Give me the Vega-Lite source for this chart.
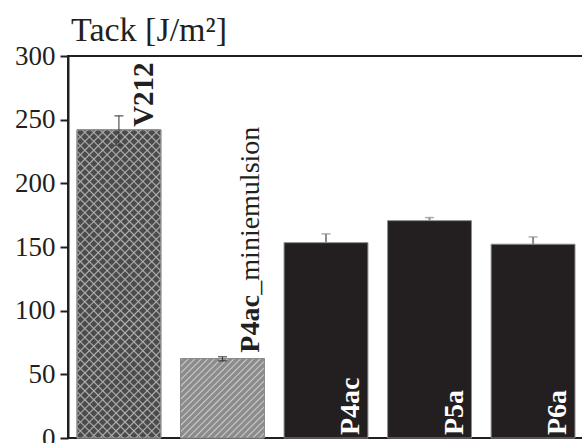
{
  "$schema": "https://vega.github.io/schema/vega-lite/v6.json",
  "width": 516,
  "height": 382,
  "autosize": {"type": "none"},
  "padding": {"left": 68, "top": 56, "right": 0, "bottom": 5},
  "background": "white",
  "config": {
    "view": {"stroke": "#231f20", "strokeWidth": 2},
    "font": "Liberation Serif"
  },
  "title": {
    "text": "Tack [J/m²]",
    "anchor": "start",
    "frame": "group",
    "offset": -33,
    "dx": 3,
    "baseline": "alphabetic",
    "font": "Liberation Serif",
    "fontSize": 34,
    "fontWeight": "normal",
    "color": "#231f20"
  },
  "datasets": {
    "tack": [
      {"name": "V212", "value": 242, "lo": 230, "hi": 253, "kind": "V212"},
      {"name": "P4ac_miniemulsion", "value": 62.3, "lo": 60.6, "hi": 63.8, "kind": "mini"},
      {"name": "P4ac", "value": 153.4, "lo": 153.4, "hi": 160.3, "kind": "black"},
      {"name": "P5a", "value": 170.7, "lo": 170.7, "hi": 173.1, "kind": "black"},
      {"name": "P6a", "value": 152.2, "lo": 152.2, "hi": 157.9, "kind": "black"}
    ]
  },
  "data": {"name": "tack"},
  "encoding": {
    "x": {
      "field": "name",
      "type": "nominal",
      "sort": null,
      "scale": {"paddingInner": 0.19, "paddingOuter": 0.087},
      "axis": null
    }
  },
  "layer": [
    {
      "mark": {"type": "bar", "stroke": "#8a8a8a", "strokeWidth": 1},
      "encoding": {
        "y": {
          "field": "value",
          "type": "quantitative",
          "scale": {"domain": [0, 300], "nice": false, "zero": true},
          "axis": {
            "values": [0, 25, 50, 75, 100, 125, 150, 175, 200, 225, 250, 275, 300],
            "labelExpr": "datum.value % 50 === 0 ? datum.label : ''",
            "tickSize": {"condition": {"test": "datum.value % 50 === 0", "value": 8}, "value": 5},
            "tickWidth": 2,
            "tickColor": "#231f20",
            "domainColor": "#231f20",
            "domainWidth": 2,
            "labelFontSize": 27,
            "labelFont": "Liberation Serif",
            "labelColor": "#231f20",
            "labelPadding": 5,
            "grid": false,
            "title": null
          }
        },
        "color": {
          "condition": [
            {"test": "datum.kind === 'V212'", "value": "#4b4b4b"},
            {"test": "datum.kind === 'mini'", "value": "#8c8c8c"}
          ],
          "value": "#231f20"
        }
      }
    },
    {
      "transform": [{"filter": "datum.kind === 'mini'"}],
      "mark": {
        "type": "bar",
        "stroke": "#8a8a8a",
        "strokeWidth": 1,
        "fill": {
          "gradient": "linear", "x1": 0, "y1": 0, "x2": 1.0272, "y2": 0.9713,
          "stops": [
            {"offset": 0, "color": "#8c8c8c"}, {"offset": 0.009, "color": "#cccccc"}, {"offset": 0.018, "color": "#8c8c8c"},
            {"offset": 0.04, "color": "#8c8c8c"}, {"offset": 0.049, "color": "#cccccc"}, {"offset": 0.058, "color": "#8c8c8c"},
            {"offset": 0.08, "color": "#8c8c8c"}, {"offset": 0.089, "color": "#cccccc"}, {"offset": 0.098, "color": "#8c8c8c"},
            {"offset": 0.12, "color": "#8c8c8c"}, {"offset": 0.129, "color": "#cccccc"}, {"offset": 0.138, "color": "#8c8c8c"},
            {"offset": 0.16, "color": "#8c8c8c"}, {"offset": 0.169, "color": "#cccccc"}, {"offset": 0.178, "color": "#8c8c8c"},
            {"offset": 0.2, "color": "#8c8c8c"}, {"offset": 0.209, "color": "#cccccc"}, {"offset": 0.218, "color": "#8c8c8c"},
            {"offset": 0.24, "color": "#8c8c8c"}, {"offset": 0.249, "color": "#cccccc"}, {"offset": 0.258, "color": "#8c8c8c"},
            {"offset": 0.28, "color": "#8c8c8c"}, {"offset": 0.289, "color": "#cccccc"}, {"offset": 0.298, "color": "#8c8c8c"},
            {"offset": 0.32, "color": "#8c8c8c"}, {"offset": 0.329, "color": "#cccccc"}, {"offset": 0.338, "color": "#8c8c8c"},
            {"offset": 0.36, "color": "#8c8c8c"}, {"offset": 0.369, "color": "#cccccc"}, {"offset": 0.378, "color": "#8c8c8c"},
            {"offset": 0.4, "color": "#8c8c8c"}, {"offset": 0.409, "color": "#cccccc"}, {"offset": 0.418, "color": "#8c8c8c"},
            {"offset": 0.44, "color": "#8c8c8c"}, {"offset": 0.449, "color": "#cccccc"}, {"offset": 0.458, "color": "#8c8c8c"},
            {"offset": 0.48, "color": "#8c8c8c"}, {"offset": 0.489, "color": "#cccccc"}, {"offset": 0.498, "color": "#8c8c8c"},
            {"offset": 0.52, "color": "#8c8c8c"}, {"offset": 0.529, "color": "#cccccc"}, {"offset": 0.538, "color": "#8c8c8c"},
            {"offset": 0.56, "color": "#8c8c8c"}, {"offset": 0.569, "color": "#cccccc"}, {"offset": 0.578, "color": "#8c8c8c"},
            {"offset": 0.6, "color": "#8c8c8c"}, {"offset": 0.609, "color": "#cccccc"}, {"offset": 0.618, "color": "#8c8c8c"},
            {"offset": 0.64, "color": "#8c8c8c"}, {"offset": 0.649, "color": "#cccccc"}, {"offset": 0.658, "color": "#8c8c8c"},
            {"offset": 0.68, "color": "#8c8c8c"}, {"offset": 0.689, "color": "#cccccc"}, {"offset": 0.698, "color": "#8c8c8c"},
            {"offset": 0.72, "color": "#8c8c8c"}, {"offset": 0.729, "color": "#cccccc"}, {"offset": 0.738, "color": "#8c8c8c"},
            {"offset": 0.76, "color": "#8c8c8c"}, {"offset": 0.769, "color": "#cccccc"}, {"offset": 0.778, "color": "#8c8c8c"},
            {"offset": 0.8, "color": "#8c8c8c"}, {"offset": 0.809, "color": "#cccccc"}, {"offset": 0.818, "color": "#8c8c8c"},
            {"offset": 0.84, "color": "#8c8c8c"}, {"offset": 0.849, "color": "#cccccc"}, {"offset": 0.858, "color": "#8c8c8c"},
            {"offset": 0.88, "color": "#8c8c8c"}, {"offset": 0.889, "color": "#cccccc"}, {"offset": 0.898, "color": "#8c8c8c"},
            {"offset": 0.92, "color": "#8c8c8c"}, {"offset": 0.929, "color": "#cccccc"}, {"offset": 0.938, "color": "#8c8c8c"},
            {"offset": 0.96, "color": "#8c8c8c"}, {"offset": 0.969, "color": "#cccccc"}, {"offset": 0.978, "color": "#8c8c8c"},
            {"offset": 1, "color": "#8c8c8c"}
          ]
        }
      },
      "encoding": {
        "y": {"field": "value", "type": "quantitative"}
      }
    },
    {
      "transform": [{"filter": "datum.kind === 'V212'"}],
      "mark": {
        "type": "bar",
        "strokeWidth": 0,
        "fill": {
          "gradient": "linear", "x1": 0, "y1": 0, "x2": 0.3224, "y2": 1.1846,
          "stops": [
            {"offset": 0, "color": "rgba(176,176,176,0)"}, {"offset": 0.004, "color": "#b0b0b0"}, {"offset": 0.008, "color": "rgba(176,176,176,0)"},
            {"offset": 0.0227, "color": "rgba(176,176,176,0)"}, {"offset": 0.0267, "color": "#b0b0b0"}, {"offset": 0.0307, "color": "rgba(176,176,176,0)"},
            {"offset": 0.0455, "color": "rgba(176,176,176,0)"}, {"offset": 0.0495, "color": "#b0b0b0"}, {"offset": 0.0535, "color": "rgba(176,176,176,0)"},
            {"offset": 0.0682, "color": "rgba(176,176,176,0)"}, {"offset": 0.0722, "color": "#b0b0b0"}, {"offset": 0.0762, "color": "rgba(176,176,176,0)"},
            {"offset": 0.0909, "color": "rgba(176,176,176,0)"}, {"offset": 0.0949, "color": "#b0b0b0"}, {"offset": 0.0989, "color": "rgba(176,176,176,0)"},
            {"offset": 0.1136, "color": "rgba(176,176,176,0)"}, {"offset": 0.1176, "color": "#b0b0b0"}, {"offset": 0.1216, "color": "rgba(176,176,176,0)"},
            {"offset": 0.1364, "color": "rgba(176,176,176,0)"}, {"offset": 0.1404, "color": "#b0b0b0"}, {"offset": 0.1444, "color": "rgba(176,176,176,0)"},
            {"offset": 0.1591, "color": "rgba(176,176,176,0)"}, {"offset": 0.1631, "color": "#b0b0b0"}, {"offset": 0.1671, "color": "rgba(176,176,176,0)"},
            {"offset": 0.1818, "color": "rgba(176,176,176,0)"}, {"offset": 0.1858, "color": "#b0b0b0"}, {"offset": 0.1898, "color": "rgba(176,176,176,0)"},
            {"offset": 0.2045, "color": "rgba(176,176,176,0)"}, {"offset": 0.2085, "color": "#b0b0b0"}, {"offset": 0.2125, "color": "rgba(176,176,176,0)"},
            {"offset": 0.2273, "color": "rgba(176,176,176,0)"}, {"offset": 0.2313, "color": "#b0b0b0"}, {"offset": 0.2353, "color": "rgba(176,176,176,0)"},
            {"offset": 0.25, "color": "rgba(176,176,176,0)"}, {"offset": 0.254, "color": "#b0b0b0"}, {"offset": 0.258, "color": "rgba(176,176,176,0)"},
            {"offset": 0.2727, "color": "rgba(176,176,176,0)"}, {"offset": 0.2767, "color": "#b0b0b0"}, {"offset": 0.2807, "color": "rgba(176,176,176,0)"},
            {"offset": 0.2955, "color": "rgba(176,176,176,0)"}, {"offset": 0.2995, "color": "#b0b0b0"}, {"offset": 0.3035, "color": "rgba(176,176,176,0)"},
            {"offset": 0.3182, "color": "rgba(176,176,176,0)"}, {"offset": 0.3222, "color": "#b0b0b0"}, {"offset": 0.3262, "color": "rgba(176,176,176,0)"},
            {"offset": 0.3409, "color": "rgba(176,176,176,0)"}, {"offset": 0.3449, "color": "#b0b0b0"}, {"offset": 0.3489, "color": "rgba(176,176,176,0)"},
            {"offset": 0.3636, "color": "rgba(176,176,176,0)"}, {"offset": 0.3676, "color": "#b0b0b0"}, {"offset": 0.3716, "color": "rgba(176,176,176,0)"},
            {"offset": 0.3864, "color": "rgba(176,176,176,0)"}, {"offset": 0.3904, "color": "#b0b0b0"}, {"offset": 0.3944, "color": "rgba(176,176,176,0)"},
            {"offset": 0.4091, "color": "rgba(176,176,176,0)"}, {"offset": 0.4131, "color": "#b0b0b0"}, {"offset": 0.4171, "color": "rgba(176,176,176,0)"},
            {"offset": 0.4318, "color": "rgba(176,176,176,0)"}, {"offset": 0.4358, "color": "#b0b0b0"}, {"offset": 0.4398, "color": "rgba(176,176,176,0)"},
            {"offset": 0.4545, "color": "rgba(176,176,176,0)"}, {"offset": 0.4585, "color": "#b0b0b0"}, {"offset": 0.4625, "color": "rgba(176,176,176,0)"},
            {"offset": 0.4773, "color": "rgba(176,176,176,0)"}, {"offset": 0.4813, "color": "#b0b0b0"}, {"offset": 0.4853, "color": "rgba(176,176,176,0)"},
            {"offset": 0.5, "color": "rgba(176,176,176,0)"}, {"offset": 0.504, "color": "#b0b0b0"}, {"offset": 0.508, "color": "rgba(176,176,176,0)"},
            {"offset": 0.5227, "color": "rgba(176,176,176,0)"}, {"offset": 0.5267, "color": "#b0b0b0"}, {"offset": 0.5307, "color": "rgba(176,176,176,0)"},
            {"offset": 0.5455, "color": "rgba(176,176,176,0)"}, {"offset": 0.5495, "color": "#b0b0b0"}, {"offset": 0.5535, "color": "rgba(176,176,176,0)"},
            {"offset": 0.5682, "color": "rgba(176,176,176,0)"}, {"offset": 0.5722, "color": "#b0b0b0"}, {"offset": 0.5762, "color": "rgba(176,176,176,0)"},
            {"offset": 0.5909, "color": "rgba(176,176,176,0)"}, {"offset": 0.5949, "color": "#b0b0b0"}, {"offset": 0.5989, "color": "rgba(176,176,176,0)"},
            {"offset": 0.6136, "color": "rgba(176,176,176,0)"}, {"offset": 0.6176, "color": "#b0b0b0"}, {"offset": 0.6216, "color": "rgba(176,176,176,0)"},
            {"offset": 0.6364, "color": "rgba(176,176,176,0)"}, {"offset": 0.6404, "color": "#b0b0b0"}, {"offset": 0.6444, "color": "rgba(176,176,176,0)"},
            {"offset": 0.6591, "color": "rgba(176,176,176,0)"}, {"offset": 0.6631, "color": "#b0b0b0"}, {"offset": 0.6671, "color": "rgba(176,176,176,0)"},
            {"offset": 0.6818, "color": "rgba(176,176,176,0)"}, {"offset": 0.6858, "color": "#b0b0b0"}, {"offset": 0.6898, "color": "rgba(176,176,176,0)"},
            {"offset": 0.7045, "color": "rgba(176,176,176,0)"}, {"offset": 0.7085, "color": "#b0b0b0"}, {"offset": 0.7125, "color": "rgba(176,176,176,0)"},
            {"offset": 0.7273, "color": "rgba(176,176,176,0)"}, {"offset": 0.7313, "color": "#b0b0b0"}, {"offset": 0.7353, "color": "rgba(176,176,176,0)"},
            {"offset": 0.75, "color": "rgba(176,176,176,0)"}, {"offset": 0.754, "color": "#b0b0b0"}, {"offset": 0.758, "color": "rgba(176,176,176,0)"},
            {"offset": 0.7727, "color": "rgba(176,176,176,0)"}, {"offset": 0.7767, "color": "#b0b0b0"}, {"offset": 0.7807, "color": "rgba(176,176,176,0)"},
            {"offset": 0.7955, "color": "rgba(176,176,176,0)"}, {"offset": 0.7995, "color": "#b0b0b0"}, {"offset": 0.8035, "color": "rgba(176,176,176,0)"},
            {"offset": 0.8182, "color": "rgba(176,176,176,0)"}, {"offset": 0.8222, "color": "#b0b0b0"}, {"offset": 0.8262, "color": "rgba(176,176,176,0)"},
            {"offset": 0.8409, "color": "rgba(176,176,176,0)"}, {"offset": 0.8449, "color": "#b0b0b0"}, {"offset": 0.8489, "color": "rgba(176,176,176,0)"},
            {"offset": 0.8636, "color": "rgba(176,176,176,0)"}, {"offset": 0.8676, "color": "#b0b0b0"}, {"offset": 0.8716, "color": "rgba(176,176,176,0)"},
            {"offset": 0.8864, "color": "rgba(176,176,176,0)"}, {"offset": 0.8904, "color": "#b0b0b0"}, {"offset": 0.8944, "color": "rgba(176,176,176,0)"},
            {"offset": 0.9091, "color": "rgba(176,176,176,0)"}, {"offset": 0.9131, "color": "#b0b0b0"}, {"offset": 0.9171, "color": "rgba(176,176,176,0)"},
            {"offset": 0.9318, "color": "rgba(176,176,176,0)"}, {"offset": 0.9358, "color": "#b0b0b0"}, {"offset": 0.9398, "color": "rgba(176,176,176,0)"},
            {"offset": 0.9545, "color": "rgba(176,176,176,0)"}, {"offset": 0.9585, "color": "#b0b0b0"}, {"offset": 0.9625, "color": "rgba(176,176,176,0)"},
            {"offset": 0.9773, "color": "rgba(176,176,176,0)"}, {"offset": 0.9813, "color": "#b0b0b0"}, {"offset": 0.9853, "color": "rgba(176,176,176,0)"},
            {"offset": 1, "color": "rgba(176,176,176,0)"}
          ]
        }
      },
      "encoding": {
        "y": {"field": "value", "type": "quantitative"}
      }
    },
    {
      "transform": [{"filter": "datum.kind === 'V212'"}],
      "mark": {
        "type": "bar",
        "stroke": "#8a8a8a",
        "strokeWidth": 1,
        "fill": {
          "gradient": "linear", "x1": 0, "y1": 1, "x2": 0.3224, "y2": -0.1846,
          "stops": [
            {"offset": 0, "color": "rgba(176,176,176,0)"}, {"offset": 0.004, "color": "#b0b0b0"}, {"offset": 0.008, "color": "rgba(176,176,176,0)"},
            {"offset": 0.0227, "color": "rgba(176,176,176,0)"}, {"offset": 0.0267, "color": "#b0b0b0"}, {"offset": 0.0307, "color": "rgba(176,176,176,0)"},
            {"offset": 0.0455, "color": "rgba(176,176,176,0)"}, {"offset": 0.0495, "color": "#b0b0b0"}, {"offset": 0.0535, "color": "rgba(176,176,176,0)"},
            {"offset": 0.0682, "color": "rgba(176,176,176,0)"}, {"offset": 0.0722, "color": "#b0b0b0"}, {"offset": 0.0762, "color": "rgba(176,176,176,0)"},
            {"offset": 0.0909, "color": "rgba(176,176,176,0)"}, {"offset": 0.0949, "color": "#b0b0b0"}, {"offset": 0.0989, "color": "rgba(176,176,176,0)"},
            {"offset": 0.1136, "color": "rgba(176,176,176,0)"}, {"offset": 0.1176, "color": "#b0b0b0"}, {"offset": 0.1216, "color": "rgba(176,176,176,0)"},
            {"offset": 0.1364, "color": "rgba(176,176,176,0)"}, {"offset": 0.1404, "color": "#b0b0b0"}, {"offset": 0.1444, "color": "rgba(176,176,176,0)"},
            {"offset": 0.1591, "color": "rgba(176,176,176,0)"}, {"offset": 0.1631, "color": "#b0b0b0"}, {"offset": 0.1671, "color": "rgba(176,176,176,0)"},
            {"offset": 0.1818, "color": "rgba(176,176,176,0)"}, {"offset": 0.1858, "color": "#b0b0b0"}, {"offset": 0.1898, "color": "rgba(176,176,176,0)"},
            {"offset": 0.2045, "color": "rgba(176,176,176,0)"}, {"offset": 0.2085, "color": "#b0b0b0"}, {"offset": 0.2125, "color": "rgba(176,176,176,0)"},
            {"offset": 0.2273, "color": "rgba(176,176,176,0)"}, {"offset": 0.2313, "color": "#b0b0b0"}, {"offset": 0.2353, "color": "rgba(176,176,176,0)"},
            {"offset": 0.25, "color": "rgba(176,176,176,0)"}, {"offset": 0.254, "color": "#b0b0b0"}, {"offset": 0.258, "color": "rgba(176,176,176,0)"},
            {"offset": 0.2727, "color": "rgba(176,176,176,0)"}, {"offset": 0.2767, "color": "#b0b0b0"}, {"offset": 0.2807, "color": "rgba(176,176,176,0)"},
            {"offset": 0.2955, "color": "rgba(176,176,176,0)"}, {"offset": 0.2995, "color": "#b0b0b0"}, {"offset": 0.3035, "color": "rgba(176,176,176,0)"},
            {"offset": 0.3182, "color": "rgba(176,176,176,0)"}, {"offset": 0.3222, "color": "#b0b0b0"}, {"offset": 0.3262, "color": "rgba(176,176,176,0)"},
            {"offset": 0.3409, "color": "rgba(176,176,176,0)"}, {"offset": 0.3449, "color": "#b0b0b0"}, {"offset": 0.3489, "color": "rgba(176,176,176,0)"},
            {"offset": 0.3636, "color": "rgba(176,176,176,0)"}, {"offset": 0.3676, "color": "#b0b0b0"}, {"offset": 0.3716, "color": "rgba(176,176,176,0)"},
            {"offset": 0.3864, "color": "rgba(176,176,176,0)"}, {"offset": 0.3904, "color": "#b0b0b0"}, {"offset": 0.3944, "color": "rgba(176,176,176,0)"},
            {"offset": 0.4091, "color": "rgba(176,176,176,0)"}, {"offset": 0.4131, "color": "#b0b0b0"}, {"offset": 0.4171, "color": "rgba(176,176,176,0)"},
            {"offset": 0.4318, "color": "rgba(176,176,176,0)"}, {"offset": 0.4358, "color": "#b0b0b0"}, {"offset": 0.4398, "color": "rgba(176,176,176,0)"},
            {"offset": 0.4545, "color": "rgba(176,176,176,0)"}, {"offset": 0.4585, "color": "#b0b0b0"}, {"offset": 0.4625, "color": "rgba(176,176,176,0)"},
            {"offset": 0.4773, "color": "rgba(176,176,176,0)"}, {"offset": 0.4813, "color": "#b0b0b0"}, {"offset": 0.4853, "color": "rgba(176,176,176,0)"},
            {"offset": 0.5, "color": "rgba(176,176,176,0)"}, {"offset": 0.504, "color": "#b0b0b0"}, {"offset": 0.508, "color": "rgba(176,176,176,0)"},
            {"offset": 0.5227, "color": "rgba(176,176,176,0)"}, {"offset": 0.5267, "color": "#b0b0b0"}, {"offset": 0.5307, "color": "rgba(176,176,176,0)"},
            {"offset": 0.5455, "color": "rgba(176,176,176,0)"}, {"offset": 0.5495, "color": "#b0b0b0"}, {"offset": 0.5535, "color": "rgba(176,176,176,0)"},
            {"offset": 0.5682, "color": "rgba(176,176,176,0)"}, {"offset": 0.5722, "color": "#b0b0b0"}, {"offset": 0.5762, "color": "rgba(176,176,176,0)"},
            {"offset": 0.5909, "color": "rgba(176,176,176,0)"}, {"offset": 0.5949, "color": "#b0b0b0"}, {"offset": 0.5989, "color": "rgba(176,176,176,0)"},
            {"offset": 0.6136, "color": "rgba(176,176,176,0)"}, {"offset": 0.6176, "color": "#b0b0b0"}, {"offset": 0.6216, "color": "rgba(176,176,176,0)"},
            {"offset": 0.6364, "color": "rgba(176,176,176,0)"}, {"offset": 0.6404, "color": "#b0b0b0"}, {"offset": 0.6444, "color": "rgba(176,176,176,0)"},
            {"offset": 0.6591, "color": "rgba(176,176,176,0)"}, {"offset": 0.6631, "color": "#b0b0b0"}, {"offset": 0.6671, "color": "rgba(176,176,176,0)"},
            {"offset": 0.6818, "color": "rgba(176,176,176,0)"}, {"offset": 0.6858, "color": "#b0b0b0"}, {"offset": 0.6898, "color": "rgba(176,176,176,0)"},
            {"offset": 0.7045, "color": "rgba(176,176,176,0)"}, {"offset": 0.7085, "color": "#b0b0b0"}, {"offset": 0.7125, "color": "rgba(176,176,176,0)"},
            {"offset": 0.7273, "color": "rgba(176,176,176,0)"}, {"offset": 0.7313, "color": "#b0b0b0"}, {"offset": 0.7353, "color": "rgba(176,176,176,0)"},
            {"offset": 0.75, "color": "rgba(176,176,176,0)"}, {"offset": 0.754, "color": "#b0b0b0"}, {"offset": 0.758, "color": "rgba(176,176,176,0)"},
            {"offset": 0.7727, "color": "rgba(176,176,176,0)"}, {"offset": 0.7767, "color": "#b0b0b0"}, {"offset": 0.7807, "color": "rgba(176,176,176,0)"},
            {"offset": 0.7955, "color": "rgba(176,176,176,0)"}, {"offset": 0.7995, "color": "#b0b0b0"}, {"offset": 0.8035, "color": "rgba(176,176,176,0)"},
            {"offset": 0.8182, "color": "rgba(176,176,176,0)"}, {"offset": 0.8222, "color": "#b0b0b0"}, {"offset": 0.8262, "color": "rgba(176,176,176,0)"},
            {"offset": 0.8409, "color": "rgba(176,176,176,0)"}, {"offset": 0.8449, "color": "#b0b0b0"}, {"offset": 0.8489, "color": "rgba(176,176,176,0)"},
            {"offset": 0.8636, "color": "rgba(176,176,176,0)"}, {"offset": 0.8676, "color": "#b0b0b0"}, {"offset": 0.8716, "color": "rgba(176,176,176,0)"},
            {"offset": 0.8864, "color": "rgba(176,176,176,0)"}, {"offset": 0.8904, "color": "#b0b0b0"}, {"offset": 0.8944, "color": "rgba(176,176,176,0)"},
            {"offset": 0.9091, "color": "rgba(176,176,176,0)"}, {"offset": 0.9131, "color": "#b0b0b0"}, {"offset": 0.9171, "color": "rgba(176,176,176,0)"},
            {"offset": 0.9318, "color": "rgba(176,176,176,0)"}, {"offset": 0.9358, "color": "#b0b0b0"}, {"offset": 0.9398, "color": "rgba(176,176,176,0)"},
            {"offset": 0.9545, "color": "rgba(176,176,176,0)"}, {"offset": 0.9585, "color": "#b0b0b0"}, {"offset": 0.9625, "color": "rgba(176,176,176,0)"},
            {"offset": 0.9773, "color": "rgba(176,176,176,0)"}, {"offset": 0.9813, "color": "#b0b0b0"}, {"offset": 0.9853, "color": "rgba(176,176,176,0)"},
            {"offset": 1, "color": "rgba(176,176,176,0)"}
          ]
        }
      },
      "encoding": {
        "y": {"field": "value", "type": "quantitative"}
      }
    },
    {
      "mark": {"type": "rule"},
      "encoding": {
        "y": {"field": "lo", "type": "quantitative"},
        "y2": {"field": "hi"},
        "color": {"condition": {"test": "datum.kind === 'black'", "value": "#8c8c8c"}, "value": "#333333"},
        "strokeWidth": {"condition": {"test": "datum.kind === 'black'", "value": 2}, "value": 1}
      }
    },
    {
      "mark": {"type": "tick", "size": 9, "thickness": 1.5},
      "encoding": {
        "y": {"field": "hi", "type": "quantitative"},
        "color": {"condition": {"test": "datum.kind === 'black'", "value": "#8c8c8c"}, "value": "#333333"}
      }
    },
    {
      "transform": [{"filter": "datum.kind !== 'black'"}],
      "mark": {"type": "tick", "size": 9, "thickness": 1.5, "color": "#333333"},
      "encoding": {
        "y": {"field": "lo", "type": "quantitative"}
      }
    },
    {
      "transform": [{"filter": "datum.kind === 'V212'"}],
      "mark": {"type": "text", "angle": 270, "align": "left", "baseline": "alphabetic", "dx": 3, "dy": 34, "fontSize": 29, "fontWeight": "bold", "font": "Liberation Serif", "color": "#231f20"},
      "encoding": {
        "y": {"field": "value", "type": "quantitative"},
        "text": {"field": "name"}
      }
    },
    {
      "transform": [{"filter": "datum.kind === 'mini'"}],
      "mark": {"type": "text", "angle": 270, "align": "left", "baseline": "alphabetic", "dx": 6, "dy": 37, "fontSize": 28, "fontWeight": "bold", "font": "Liberation Serif", "color": "#231f20"},
      "encoding": {
        "y": {"field": "value", "type": "quantitative"},
        "text": {"value": "P4ac"}
      }
    },
    {
      "transform": [{"filter": "datum.kind === 'mini'"}],
      "mark": {"type": "text", "angle": 270, "align": "left", "baseline": "alphabetic", "dx": 64, "dy": 37, "fontSize": 28, "fontWeight": "normal", "font": "Liberation Serif", "color": "#231f20"},
      "encoding": {
        "y": {"field": "value", "type": "quantitative"},
        "text": {"value": "_miniemulsion"}
      }
    },
    {
      "transform": [{"filter": "datum.kind === 'black'"}],
      "mark": {"type": "text", "angle": 270, "align": "left", "baseline": "alphabetic", "dx": 3, "dy": 33, "fontSize": 28, "fontWeight": "bold", "font": "Liberation Serif", "color": "white"},
      "encoding": {
        "y": {"datum": 0, "type": "quantitative"},
        "text": {"field": "name"}
      }
    }
  ]
}
